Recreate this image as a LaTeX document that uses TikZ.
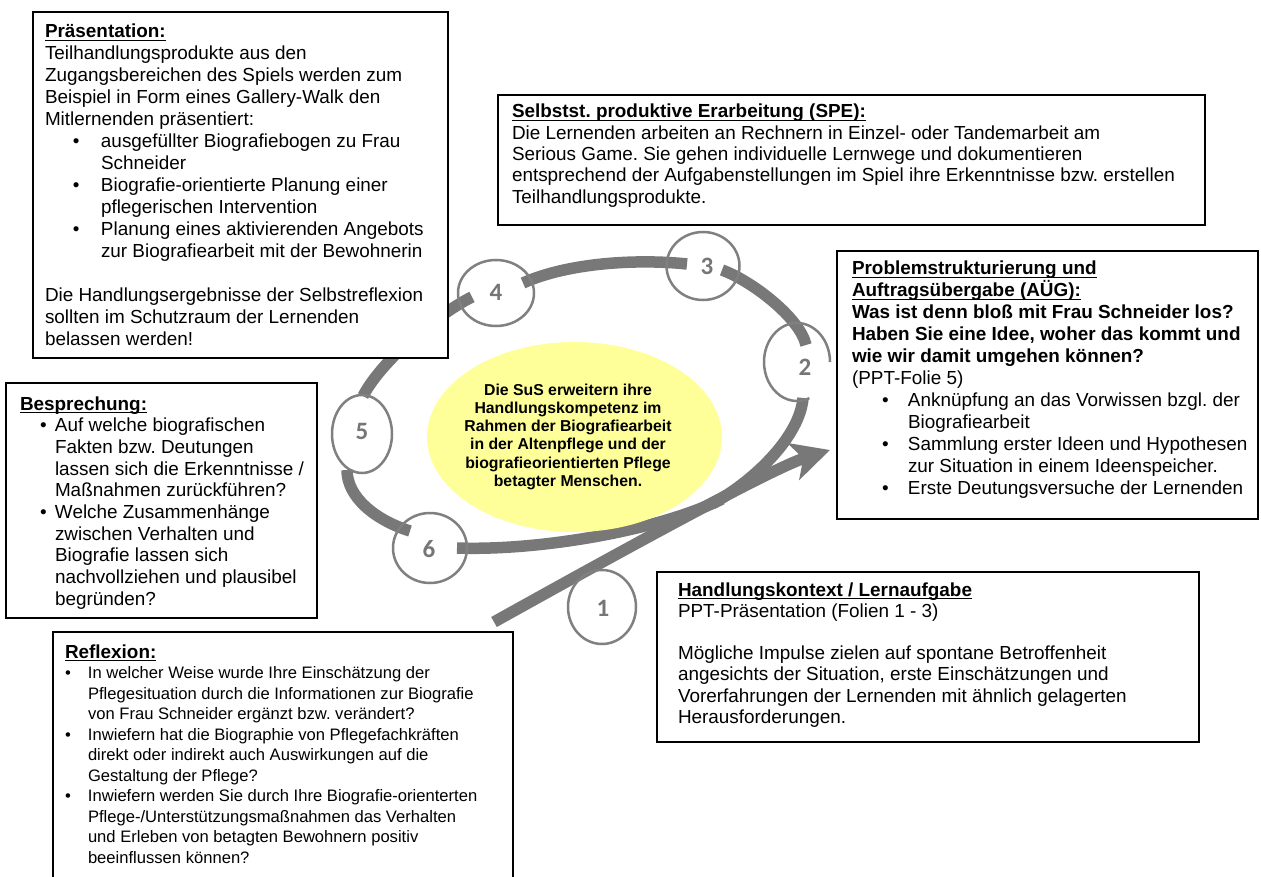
\documentclass[tikz,border=0pt]{standalone}
\usepackage{fontspec}
\setmainfont{Liberation Sans}
\newfontfamily\digitfont{Carlito}
\usetikzlibrary{arrows.meta,shapes.geometric}

\definecolor{loopgray}{RGB}{120,120,120}
\definecolor{ringgray}{RGB}{128,128,128}
\definecolor{digitgray}{RGB}{118,118,118}
\definecolor{goalyellow}{RGB}{255,255,153}

% bold heading with a Word-like underline just below the baseline
\newsavebox\headbox
\newcommand\headline[1]{\leavevmode\sbox\headbox{\bfseries #1}\rlap{\rule[-3.2pt]{\wd\headbox}{1.6pt}}\usebox\headbox}
% bullet item: #1 bullet offset, #2 text offset (hanging), #3 text
\newcommand\bitem[3]{\par\hangindent=#2\hangafter=1\noindent\makebox[#2][l]{\hspace*{#1}\textbullet}#3}

\tikzset{
  loop/.style={draw=loopgray, line width=11.5pt, line cap=butt},
  ring/.style={draw=ringgray, line width=2.5pt},
  digit/.style={text=digitgray, font=\digitfont\bfseries\fontsize{25}{26}\selectfont, inner sep=0pt},
  frame/.style={draw=black, line width=2.5pt, fill=white, inner sep=0pt, outer sep=0pt, anchor=north west},
  txt/.style={anchor=base west, inner sep=0pt, outer sep=0pt},
}

\begin{document}
\frenchspacing
\begin{tikzpicture}[x=1pt, y=-1pt]
\useasboundingbox (0,0) rectangle (1261,877);
\clip (0,0) rectangle (1261,877);
\fill[white] (0,0) rectangle (1261,877);

% ---- end points of the loop segments ----
\coordinate (start1) at (494,622);
\coordinate (tip) at (830,450);
\coordinate (join) at (712,504);
\coordinate (joinlow) at (722,499);
\coordinate (b2) at (803,398);
\coordinate (t2) at (806,345);
\coordinate (r3) at (722,270);
\coordinate (l3) at (687,264);
\coordinate (r4) at (523,283);
\coordinate (l4) at (472,297);
\coordinate (t5) at (363,396);
\coordinate (b5) at (347,470);
\coordinate (l6) at (410,531);
\coordinate (r6) at (457,548);

% ---- the learning loop ----
\draw[loop, -{Stealth[length=38pt,width=38pt,inset=10pt]}] (start1) .. controls (625,549) and (773,468) .. (tip);
\draw[loop] (b2) .. controls (800,435) and (757,479) .. (join);
\draw[loop] (r3) .. controls (752,281) and (800,318) .. (t2);
\draw[loop] (l3) .. controls (640,259) and (570,262) .. (r4);
\draw[loop] (l4) .. controls (445,310) and (385,355) .. (t5);
\draw[loop] (b5) .. controls (347,497) and (375,520) .. (l6);
\draw[loop] (r6) .. controls (540,551) and (660,530) .. (joinlow);

% ---- goal in the centre ----
\node[ellipse, fill=goalyellow, minimum width=295pt, minimum height=190pt, inner sep=0pt] (goal) at (574.5,437) {};
\node[anchor=base, inner sep=0pt] (goaltext) at (568,395) {\parbox[t]{280pt}{\centering\fontsize{15.8}{18.3}\selectfont\bfseries
Die SuS erweitern ihre\\ Handlungskompetenz im\\ Rahmen der Biografiearbeit\\ in der Altenpflege und der\\ biografieorientierten Pflege\\ betagter Menschen.}};

% ---- numbered rings ----
\draw[ring] (602,607) ellipse [x radius=34, y radius=37];
\draw[ring] (830,362) arc [start angle=0, end angle=-292, x radius=33, y radius=39];
\draw[ring] (703,266) ellipse [x radius=36.5, y radius=34];
\draw[ring] (496,293) ellipse [x radius=38, y radius=33];
\draw[ring] (362,434) ellipse [x radius=30, y radius=39];
\draw[ring] (430,548) ellipse [x radius=37, y radius=35];
\node[digit] (d1) at (603,608) {1};
\node[digit] (d2) at (805,367) {2};
\node[digit] (d3) at (707,266) {3};
\node[digit] (d4) at (496,292) {4};
\node[digit] (d5) at (362,431) {5};
\node[digit] (d6) at (429,549) {6};

% ---- Präsentation ----
\node[frame, minimum width=415pt, minimum height=346pt] (presbox) at (33,12) {};
\node[txt] (prestext) at (45,38) {\parbox[t]{400pt}{\fontsize{18.9}{22}\selectfont
\headline{Präsentation:}\newline
Teilhandlungsprodukte aus den\newline
Zugangsbereichen des Spiels werden zum\newline
Beispiel in Form eines Gallery-Walk den\newline
Mitlernenden präsentiert:
\bitem{28pt}{56pt}{ausgefüllter Biografiebogen zu Frau\newline Schneider}
\bitem{28pt}{56pt}{Biografie-orientierte Planung einer\newline pflegerischen Intervention}
\bitem{28pt}{56pt}{Planung eines aktivierenden Angebots\newline zur Biografiearbeit mit der Bewohnerin}
\par\mbox{}\par
Die Handlungsergebnisse der Selbstreflexion\newline
sollten im Schutzraum der Lernenden\newline
belassen werden!}};

% ---- SPE ----
\node[frame, minimum width=707pt, minimum height=130pt] (spebox) at (498,95) {};
\node[txt] (spetext) at (512,118) {\parbox[t]{690pt}{\fontsize{18.9}{21.3}\selectfont
\headline{Selbstst. produktive Erarbeitung (SPE):}\newline
Die Lernenden arbeiten an Rechnern in Einzel- oder Tandemarbeit am\newline
Serious Game. Sie gehen individuelle Lernwege und dokumentieren\newline
entsprechend der Aufgabenstellungen im Spiel ihre Erkenntnisse bzw. erstellen\newline
Teilhandlungsprodukte.}};

% ---- AÜG ----
\node[frame, minimum width=421pt, minimum height=268pt] (augbox) at (837,251) {};
\node[txt] (augtext) at (852,275) {\parbox[t]{410pt}{\fontsize{18.9}{22}\selectfont
\headline{Problemstrukturierung und}\newline
\headline{Auftragsübergabe (AÜG):}\newline
\textbf{Was ist denn bloß mit Frau Schneider los?}\newline
\textbf{Haben Sie eine Idee, woher das kommt und}\newline
\textbf{wie wir damit umgehen können?}\newline
(PPT-Folie 5)
\bitem{30pt}{56pt}{Anknüpfung an das Vorwissen bzgl. der\newline Biografiearbeit}
\bitem{30pt}{56pt}{Sammlung erster Ideen und Hypothesen\newline zur Situation in einem Ideenspeicher.}
\bitem{30pt}{56pt}{Erste Deutungsversuche der Lernenden}}};

% ---- Besprechung ----
\node[frame, minimum width=311pt, minimum height=235pt] (bespbox) at (6,383) {};
\node[txt] (besptext) at (20,410) {\parbox[t]{300pt}{\fontsize{18.9}{21.7}\selectfont
\headline{Besprechung:}
\bitem{20pt}{35pt}{Auf welche biografischen\newline Fakten bzw. Deutungen\newline lassen sich die Erkenntnisse /\newline Maßnahmen zurückführen?}
\bitem{20pt}{35pt}{Welche Zusammenhänge\newline zwischen Verhalten und\newline Biografie lassen sich\newline nachvollziehen und plausibel\newline begründen?}}};

% ---- Handlungskontext ----
\node[frame, minimum width=542pt, minimum height=170pt] (hkbox) at (657,572) {};
\node[txt] (hktext) at (678,596) {\parbox[t]{520pt}{\fontsize{18.9}{21.2}\selectfont
\headline{Handlungskontext / Lernaufgabe}\newline
PPT-Präsentation (Folien 1 - 3)
\par\mbox{}\par
Mögliche Impulse zielen auf spontane Betroffenheit\newline
angesichts der Situation, erste Einschätzungen und\newline
Vorerfahrungen der Lernenden mit ähnlich gelagerten\newline
Herausforderungen.}};

% ---- Reflexion ----
\node[frame, line width=1.8pt, minimum width=460pt, minimum height=280pt] (reflbox) at (53,632) {};
\node[txt] (refltext) at (65,658) {\parbox[t]{445pt}{\fontsize{16.6}{20.5}\selectfont
{\fontsize{18.9}{20.5}\selectfont\headline{Reflexion:}}
\bitem{0pt}{23pt}{In welcher Weise wurde Ihre Einschätzung der\newline Pflegesituation durch die Informationen zur Biografie\newline von Frau Schneider ergänzt bzw. verändert?}
\bitem{0pt}{23pt}{Inwiefern hat die Biographie von Pflegefachkräften\newline direkt oder indirekt auch Auswirkungen auf die\newline Gestaltung der Pflege?}
\bitem{0pt}{23pt}{Inwiefern werden Sie durch Ihre Biografie-orienterten\newline Pflege-/Unterstützungsmaßnahmen das Verhalten\newline und Erleben von betagten Bewohnern positiv\newline beeinflussen können?}}};
\end{tikzpicture}
\end{document}
